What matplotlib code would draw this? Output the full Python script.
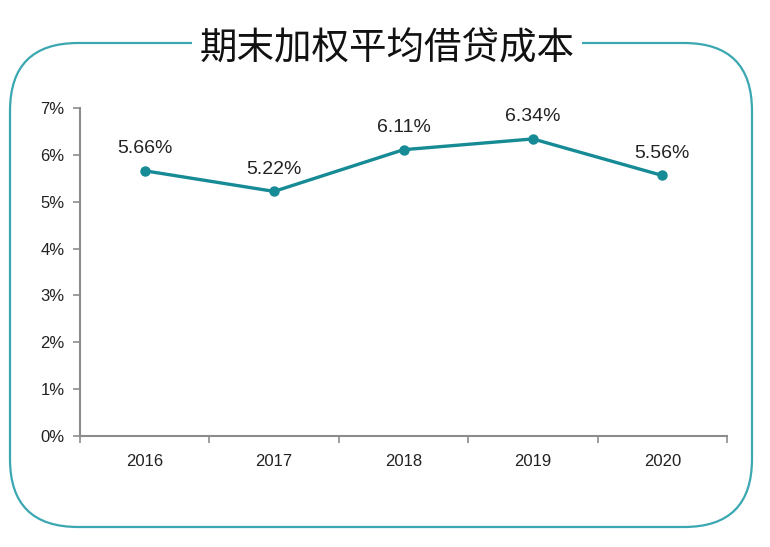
import matplotlib.pyplot as plt
from matplotlib.patches import FancyBboxPatch

plt.rcParams['font.family'] = ['Liberation Sans', 'Noto Sans CJK SC', 'DejaVu Sans']

years = ['2016', '2017', '2018', '2019', '2020']
cost = [5.66, 5.22, 6.11, 6.34, 5.56]
labels = ['5.66%', '5.22%', '6.11%', '6.34%', '5.56%']
yticks = [0, 1, 2, 3, 4, 5, 6, 7]
title = '期末加权平均借贷成本'

teal = '#168b95'
frame = '#3aa7b1'
grey = '#8c8c8c'

fig = plt.figure(figsize=(7.7, 5.47), dpi=100)

# frame drawn in pixel coordinates
bg = fig.add_axes([0, 0, 1, 1])
bg.set_xlim(0, 770)
bg.set_ylim(547, 0)
bg.axis('off')
box = FancyBboxPatch((10, 43), 742, 484, boxstyle='round,pad=0,rounding_size=68',
                     fill=False, edgecolor=frame, linewidth=1.6)
bg.add_patch(box)
bg.text(387, 49, title, ha='center', va='center', fontsize=27,
        family=['Noto Sans CJK SC', 'DejaVu Sans'], color='#111111',
        bbox=dict(facecolor='white', edgecolor='none', pad=5))

ax = fig.add_axes([80 / 770, 111 / 547, 647 / 770, 328 / 547])
x = list(range(len(years)))
ax.plot(x, cost, color=teal, linewidth=2.4, marker='o', markersize=6.5)
for xi, v, lab in zip(x, cost, labels):
    ax.annotate(lab, (xi, v), xytext=(0, 16), textcoords='offset points',
                ha='center', va='center', fontsize=14, color='#222222')

ax.set_xlim(-0.5, len(years) - 0.5)
ax.set_ylim(0, 7)
ax.set_yticks(yticks)
ax.set_yticklabels(['%d%%' % t for t in yticks])
ax.set_xticks([i - 0.5 for i in range(len(years) + 1)])
ax.set_xticklabels([])
ax.set_xticks(x, minor=True)
ax.set_xticklabels(years, minor=True)
ax.tick_params(axis='x', which='minor', length=0, pad=13, labelsize=12, labelcolor='#222222')
ax.tick_params(axis='x', which='major', length=5, width=1.2, color=grey, direction='out')
ax.tick_params(axis='y', length=5, width=1.2, color=grey, direction='out',
               labelsize=12, labelcolor='#222222', pad=6)
for s in ['top', 'right']:
    ax.spines[s].set_visible(False)
for s in ['left', 'bottom']:
    ax.spines[s].set_color(grey)
    ax.spines[s].set_linewidth(1.5)

fig.savefig('out.png', dpi=100)
